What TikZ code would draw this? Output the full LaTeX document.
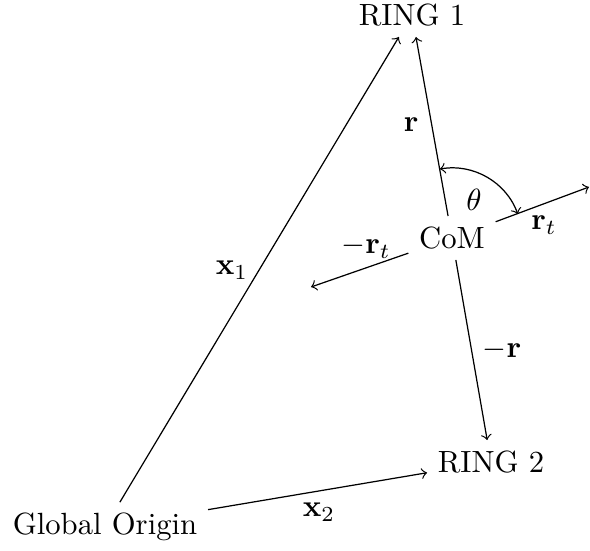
\documentclass[tikz,border=0pt]{standalone}
\begin{document}
\begin{tikzpicture}[x=0.326pt,y=0.326pt,
  vec/.style={->},
  lbl/.style={inner sep=1pt}]
\useasboundingbox (0,0) rectangle (590,550);
% main nodes
\node (ring1) at (412,535) {RING 1};
\node (ring2) at (491,88) {RING 2};
\node (com) at (452,312) {CoM};
\node (origin) at (105,23) {Global Origin};
\coordinate (rtend) at (589,363);
\coordinate (mrtend) at (311,263);
% connectors
\draw[vec] (origin) -- (ring1);
\draw[vec] (origin) -- (ring2);
\draw[vec] (com) -- (ring1);
\draw[vec] (com) -- (ring2);
\draw[vec] (com) -- (rtend);
\draw[vec] (com) -- (mrtend);
\draw[<->] ([shift={(100:70)}]com.center) arc[start angle=100,end angle=20,radius=70];
% labels
\node[lbl] (lr) at (411,425) {$\mathbf{r}$};
\node[lbl] (lth) at (474,350) {$\theta$};
\node[lbl] (lrt) at (544,325) {$\mathbf{r}_t$};
\node[lbl] (lmrt) at (366,303) {$-\mathbf{r}_t$};
\node[lbl] (lx1) at (232,280) {$\mathbf{x}_1$};
\node[lbl] (lmr) at (502,200) {$-\mathbf{r}$};
\node[lbl] (lx2) at (319,38) {$\mathbf{x}_2$};
\end{tikzpicture}
\end{document}
